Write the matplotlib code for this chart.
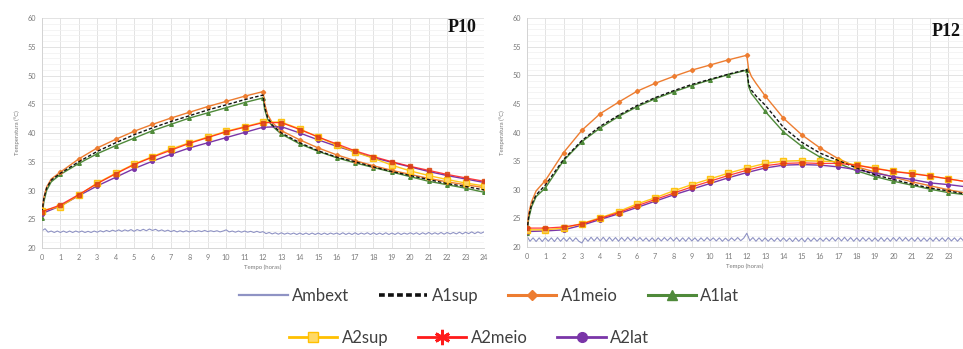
import matplotlib
matplotlib.use("Agg")
import matplotlib.pyplot as plt
from matplotlib.lines import Line2D
from matplotlib.ticker import MultipleLocator

# ---------------- data ----------------
hours = list(range(0, 25))
hours_fine = [0, 0.1, 0.25, 0.5] + list(range(1, 13)) + [12.1, 12.25, 12.5] + list(range(13, 25))
hours_amb = [i / 6 for i in range(0, 145)]

# P10
p10_ambext = [
    23.0, 23.35, 22.75, 22.95, 22.7, 22.95,
    22.7, 22.95, 22.7, 22.95, 22.7, 22.95,
    22.75, 22.95, 22.7, 22.9, 22.7, 22.95,
    22.75, 23.0, 22.8, 23.05, 22.85, 23.1,
    22.9, 23.15, 22.9, 23.15, 22.95, 23.2,
    22.9, 23.2, 23.0, 23.25, 23.0, 23.3,
    23.05, 23.25, 22.95, 23.15, 22.9, 23.1,
    22.85, 23.05, 22.8, 23.0, 22.8, 23.0,
    22.8, 23.0, 22.85, 23.0, 22.85, 23.05,
    22.85, 23.0, 22.85, 23.0, 22.8, 22.95,
    23.15, 22.8, 22.95, 22.75, 22.95, 22.75,
    22.95, 22.75, 22.9, 22.7, 22.9, 22.7,
    22.85, 22.5, 22.7, 22.45, 22.65, 22.4,
    22.65, 22.4, 22.6, 22.4, 22.6, 22.35,
    22.6, 22.35, 22.6, 22.35, 22.6, 22.35,
    22.6, 22.35, 22.6, 22.35, 22.6, 22.4,
    22.6, 22.35, 22.65, 22.35, 22.6, 22.35,
    22.65, 22.35, 22.6, 22.4, 22.65, 22.35,
    22.65, 22.35, 22.6, 22.35, 22.65, 22.35,
    22.6, 22.35, 22.65, 22.35, 22.6, 22.4,
    22.65, 22.4, 22.65, 22.35, 22.65, 22.4,
    22.7, 22.4, 22.65, 22.4, 22.7, 22.4,
    22.7, 22.45, 22.7, 22.45, 22.75, 22.45,
    22.75, 22.5, 22.8, 22.5, 22.8, 22.55,
    22.8,
]
p10_a1sup = [26.2, 28.6, 30.4, 31.8, 33.0, 35.0, 36.8, 38.3, 39.7, 40.9, 42.0, 43.0, 44.0, 44.9, 45.8, 46.6,
             44.4, 42.7, 41.4, 40.0, 38.3, 36.9, 35.8, 35.0, 34.1, 33.3, 32.6, 31.9, 31.2, 30.7, 30.1]
p10_a1meio = [26.0, 28.8, 30.6, 32.0, 33.2, 35.5, 37.4, 38.9, 40.3, 41.5, 42.6, 43.6, 44.6, 45.5, 46.4, 47.2,
              45.0, 43.2, 41.8, 40.4, 38.8, 37.4, 36.2, 35.2, 34.3, 33.5, 32.8, 32.1, 31.5, 31.0, 30.5]
p10_a1lat = [25.2, 28.0, 30.0, 31.5, 32.8, 34.7, 36.4, 37.8, 39.1, 40.4, 41.5, 42.6, 43.5, 44.4, 45.3, 46.1,
             44.0, 42.4, 41.2, 39.8, 38.1, 36.8, 35.7, 34.8, 34.0, 33.2, 32.4, 31.6, 31.0, 30.4, 29.7]
p10_a2sup = [26.5, 27.2, 29.2, 31.3, 33.0, 34.6, 35.9, 37.2, 38.3, 39.3, 40.3, 41.1, 41.9, 41.9, 40.7, 39.3,
             37.9, 36.7, 35.6, 34.4, 33.4, 32.6, 31.9, 31.3, 30.8]
p10_a2meio = [26.3, 27.5, 29.3, 31.2, 32.9, 34.5, 35.8, 37.0, 38.2, 39.2, 40.2, 41.0, 41.8, 41.8, 40.6, 39.3,
              38.1, 36.9, 35.9, 35.0, 34.2, 33.5, 32.8, 32.2, 31.6]
p10_a2lat = [26.0, 27.3, 29.1, 30.8, 32.3, 33.8, 35.1, 36.3, 37.4, 38.3, 39.2, 40.1, 41.0, 41.1, 40.0, 38.8,
             37.7, 36.7, 35.7, 34.9, 34.1, 33.3, 32.6, 32.0, 31.4]

# P12
p12_ambext = [
    21.9, 21.0, 21.6, 20.95, 21.6, 20.95,
    21.6, 21.0, 21.6, 20.95, 21.65, 21.0,
    21.6, 21.0, 21.65, 21.0, 21.6, 21.0,
    20.7, 21.6, 21.0, 21.7, 21.05, 21.7,
    21.05, 21.7, 21.0, 21.7, 21.05, 21.65,
    21.0, 21.65, 21.05, 21.7, 21.1, 21.7,
    21.1, 21.65, 21.05, 21.6, 21.0, 21.6,
    21.0, 21.6, 21.05, 21.65, 21.1, 21.65,
    21.05, 21.65, 21.0, 21.6, 21.0, 21.65,
    21.05, 21.6, 21.0, 21.6, 21.05, 21.65,
    21.1, 21.6, 21.05, 21.6, 21.0, 21.55,
    21.05, 21.6, 21.1, 21.65, 21.1, 21.55,
    22.4, 21.1, 21.65, 21.0, 21.6, 21.0,
    21.6, 21.0, 21.55, 21.0, 21.6, 21.0,
    21.6, 21.0, 21.55, 20.95, 21.6, 21.0,
    21.55, 20.9, 21.6, 21.0, 21.6, 21.0,
    21.55, 21.0, 21.6, 21.05, 21.65, 21.05,
    21.65, 21.05, 21.7, 21.05, 21.65, 21.0,
    21.6, 21.0, 21.65, 21.05, 21.6, 21.0,
    21.6, 21.0, 21.65, 21.0, 21.6, 21.0,
    21.65, 21.05, 21.7, 21.05, 21.65, 21.05,
    21.6, 21.0, 21.65, 21.0, 21.6, 21.0,
    21.6, 21.0, 21.65, 21.05, 21.6, 21.0,
    21.65, 21.05, 21.6, 21.0, 21.6, 21.05,
    21.6,
]
p12_a1sup = [22.8, 25.4, 27.4, 29.1, 30.8, 35.3, 38.6, 41.1, 43.0, 44.7, 46.1, 47.3, 48.4, 49.3, 50.2, 51.0,
             48.5, 47.4, 46.4, 44.8, 40.9, 38.3, 36.4, 35.1, 33.8, 32.6, 31.8, 31.0, 30.3, 29.8, 29.2]
p12_a1meio = [23.0, 26.0, 27.9, 29.8, 31.6, 36.5, 40.4, 43.3, 45.3, 47.2, 48.6, 49.8, 50.9, 51.8, 52.7, 53.5,
              51.0, 49.8, 48.6, 46.4, 42.5, 39.6, 37.3, 35.4, 34.0, 33.1, 32.2, 31.4, 30.7, 30.0, 29.4]
p12_a1lat = [22.5, 25.0, 27.0, 28.8, 30.3, 35.1, 38.4, 40.8, 42.8, 44.5, 45.9, 47.1, 48.2, 49.2, 50.1, 50.9,
             48.0, 46.8, 45.8, 43.7, 40.1, 37.6, 35.7, 34.6, 33.3, 32.3, 31.5, 30.8, 30.1, 29.5, 29.1]
p12_a2sup = [23.0, 23.0, 23.3, 24.1, 25.1, 26.2, 27.5, 28.6, 29.8, 30.9, 31.9, 32.9, 33.8, 34.6, 35.0, 35.1,
             35.0, 34.9, 34.3, 33.8, 33.2, 32.9, 32.4, 31.9, 31.4]
p12_a2meio = [23.3, 23.3, 23.5, 24.0, 25.0, 26.0, 27.2, 28.3, 29.4, 30.5, 31.5, 32.5, 33.4, 34.2, 34.6, 34.7,
              34.6, 34.6, 34.3, 33.7, 33.2, 32.8, 32.4, 31.9, 31.4]
p12_a2lat = [22.7, 22.8, 23.0, 23.8, 24.8, 25.8, 26.9, 28.0, 29.1, 30.1, 31.1, 32.1, 33.0, 33.8, 34.3, 34.4,
             34.3, 34.0, 33.5, 32.9, 32.3, 31.8, 31.2, 30.9, 30.5]

series_names = ["Ambext", "A1sup", "A1meio", "A1lat", "A2sup", "A2meio", "A2lat"]
hour_ticks_p10 = list(range(0, 25))
hour_ticks_p12 = list(range(0, 24))
temp_ticks = [20, 25, 30, 35, 40, 45, 50, 55, 60]
panel_titles = ["P10", "P12"]

# ---------------- style ----------------
C_AMB = "#8f93c4"
C_SUP1 = "#111111"
C_MEIO1 = "#ed7d31"
C_LAT1 = "#4f8a3a"
C_SUP2 = "#ffc000"
C_MEIO2 = "#ff1a1a"
C_LAT2 = "#7a35a8"
STAR = (6, 2, 0)

plt.rcParams["font.family"] = ["Lato", "DejaVu Sans"]

fig = plt.figure(figsize=(9.63, 3.49), dpi=100)
ax1 = fig.add_axes([0.0436, 0.2894, 0.459, 0.659])
ax2 = fig.add_axes([0.5472, 0.2923, 0.4528, 0.656])

fine_marks = [i for i, h in enumerate(hours_fine) if float(h).is_integer()]


def draw(ax, amb, a1sup, a1meio, a1lat, a2sup, a2meio, a2lat, title, xmax, xticks, tx, ty):
    ax.plot(hours_amb, amb, color=C_AMB, lw=0.8, zorder=2)
    ax.plot(hours_fine, a1lat, color=C_LAT1, lw=1.0, marker="^", ms=2.6,
            markevery=fine_marks, zorder=3)
    ax.plot(hours_fine, a1meio, color=C_MEIO1, lw=1.0, marker="D", ms=2.2,
            markevery=fine_marks, zorder=3)
    ax.plot(hours_fine, a1sup, color=C_SUP1, lw=1.0, ls=(0, (2.5, 1.5)), zorder=4)
    ax.plot(hours, a2lat, color=C_LAT2, lw=1.0, marker="o", ms=2.6, zorder=3)
    ax.plot(hours, a2sup, color=C_SUP2, lw=1.0, marker="s", ms=4.0,
            mfc="#ffd966", mec="#ffc000", alpha=0.9, zorder=3)
    ax.plot(hours, a2meio, color=C_MEIO2, lw=0.9, marker="s", ms=2.4, mec="#d9480f",
            mfc="#e03c1c", alpha=0.85, zorder=4)
    ax.set_xlim(0, xmax)
    ax.set_ylim(20, 60)
    ax.set_xticks(xticks)
    ax.set_yticks(temp_ticks)
    ax.yaxis.set_minor_locator(MultipleLocator(1))
    ax.grid(True, which="major", color="#dedede", lw=0.6, zorder=0)
    ax.grid(True, which="minor", axis="y", color="#f0f0f0", lw=0.5, zorder=0)
    ax.tick_params(which="both", length=0, labelsize=5.2, labelcolor="#7a7a7a", pad=4)
    for s in ax.spines.values():
        s.set_visible(False)
    ax.spines["left"].set_visible(True)
    ax.spines["left"].set_color("#d0d0d0")
    ax.spines["left"].set_linewidth(0.6)
    ax.spines["bottom"].set_visible(True)
    ax.spines["bottom"].set_color("#d0d0d0")
    ax.spines["bottom"].set_linewidth(0.6)
    ax.set_xlabel("Tempo (horas)", fontsize=4.3, color="#7a7a7a", labelpad=3)
    ax.set_ylabel("Temperatura (°C)", fontsize=4.3, color="#7a7a7a", labelpad=6)
    ax.text(tx, ty, title, transform=ax.transAxes, ha="right", va="center",
            fontsize=13, fontweight="bold", family="Liberation Serif", color="#111111")


draw(ax1, p10_ambext, p10_a1sup, p10_a1meio, p10_a1lat, p10_a2sup, p10_a2meio, p10_a2lat,
     panel_titles[0], 24, hour_ticks_p10, 0.982, 0.957)
draw(ax2, p12_ambext, p12_a1sup, p12_a1meio, p12_a1lat, p12_a2sup, p12_a2meio, p12_a2lat,
     panel_titles[1], 23.8, hour_ticks_p12, 0.995, 0.94)

# ---------------- legend ----------------
h_amb = Line2D([], [], color=C_AMB, lw=1.6)
h_sup1 = Line2D([], [], color=C_SUP1, lw=2.6, ls=(0, (1.6, 0.9)))
h_meio1 = Line2D([], [], color=C_MEIO1, lw=2.2, marker="D", ms=5.5)
h_lat1 = Line2D([], [], color=C_LAT1, lw=2.2, marker="^", ms=6.5)
h_sup2 = Line2D([], [], color=C_SUP2, lw=2.0, marker="s", ms=7, mfc="#ffd966", mec=C_SUP2)
h_meio2 = Line2D([], [], color=C_MEIO2, lw=2.0, marker=STAR, ms=11, mew=2.0)
h_lat2 = Line2D([], [], color=C_LAT2, lw=2.0, marker="o", ms=7)

leg_kw = dict(frameon=False, fontsize=12, handlelength=2.9, handletextpad=0.25,
              columnspacing=1.8, labelcolor="#404040", borderaxespad=0, borderpad=0)
fig.legend([h_amb, h_sup1, h_meio1, h_lat1], series_names[:4], ncol=4,
           loc="center", bbox_to_anchor=(0.508, 0.152), **leg_kw)
fig.legend([h_sup2, h_meio2, h_lat2], series_names[4:], ncol=3,
           loc="center", bbox_to_anchor=(0.487, 0.032), **leg_kw)

fig.savefig("out.png", dpi=100)
